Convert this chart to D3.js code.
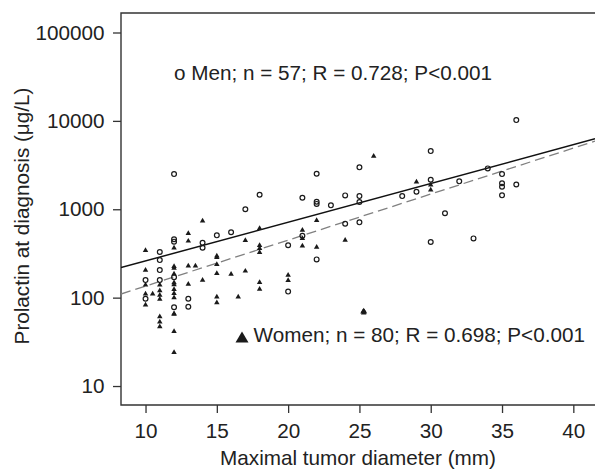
<!DOCTYPE html>
<html><head><meta charset="utf-8">
<script src="https://cdn.jsdelivr.net/npm/d3@7"></script>
<style>body{margin:0;background:#fff}svg{display:block}text{font-family:"Liberation Sans",Arial,Helvetica,sans-serif;fill:#222}</style>
</head><body>
<script>
// Men: [diameter mm, prolactin µg/L]
const men = [
 [12,2500],[18,1460],[17,1000],[12,457],[12,430],[11,328],[11,266],[14,417],[14,367],[15,507],[16,550],
 [11,205],[10,158],[11,158],[12,170],[10,97],[12,78],[13,97],[13,79],
 [25,2980],[22,2520],[21,1350],[22,1215],[22,1150],[23,1107],[24,1435],[25,1410],[25,1206],[28,1410],[29,1578],
 [24,685],[25,711],[21,500],[20,391],[22,271],[20,117],
 [36,10200],[30,4550],[34,2900],[35,2500],[35,1963],[35,1800],[35,1436],[36,1910],[30,2157],[32,2070],[31,900],[30,426],[33,468]
];
// Women: [diameter mm, prolactin µg/L]
const women = [
 [14,740],[13,533],[13,437],[12,366],[10,343],[18,608],[17,445],[18,390],[18,360],[18,325],
 [15,296],[15,285],[15,238],[13,228],[13.5,228],[12,225],[12,215],[10,205],[12,185],[10,139],[11,139],
 [12,148],[12,140],[13,142],[14,158],[15,188],[16,184],[17,200],[18,149],[18,125],
 [10,110],[10,83],[10.5,110],[11,120],[11,107],[11,96],[12,124],[12,112],[12,100],[12,66],[12,65],[11,61],
 [15,102],[15,88],[16.5,102],[11,53],[11,47],[12,41.5],[12,24],
 [26,4000],[29,2045],[22,749],[24,448],[21,580],[21,467],[21,384],[22,372],[20,180],[20,157],
 [25.3,71],[25.3,67],[25.25,69],[25.35,69],[30,1880],[30,1660]
];
// regression fits: log10(prolactin) = a + b * diameter
const menFit = [1.977, 0.04383];
const womenFit = [1.610, 0.05205];
const xTicks = [10,15,20,25,30,35,40];
const yTicks = [10,100,1000,10000,100000];
const menLabel = "o Men; n = 57; R = 0.728; P<0.001";
const womenLabel = "Women; n = 80; R = 0.698; P<0.001";
const xTitle = "Maximal tumor diameter (mm)";
const yTitle = "Prolactin at diagnosis (μg/L)";

const W = 595, H = 470;
const L = 121, T = 13, R = 595, B = 405;
const FS = 20.7;

const svg = d3.select("body").append("svg").attr("width", W).attr("height", H);
const x = d3.scaleLinear().domain([8.28, 41.52]).range([L, R]);
const y = d3.scaleLog().domain([6.10, 166200]).range([B, T]);

svg.append("clipPath").attr("id","clip").append("rect")
  .attr("x", L).attr("y", T).attr("width", R - L).attr("height", B - T);

// axes
const ya = svg.append("g").attr("transform", `translate(${L},0)`)
  .call(d3.axisLeft(y).tickValues(yTicks).tickFormat(d3.format("d")).tickSize(8).tickPadding(8.5));
const xa = svg.append("g").attr("transform", `translate(0,${B})`)
  .call(d3.axisBottom(x).tickValues(xTicks).tickFormat(d3.format("d")).tickSize(8).tickPadding(10.3));
[ya, xa].forEach(g => {
  g.select(".domain").remove();
  g.selectAll(".tick line").attr("stroke", "#333").attr("stroke-width", 1.3);
  g.selectAll(".tick text").style("font-size", FS + "px").attr("fill", "#222");
});

// frame
svg.append("path")
  .attr("d", `M${R+2},${T}H${L}V${B}H${R+2}`)
  .attr("fill", "none").attr("stroke", "#333").attr("stroke-width", 1.4);

// regression lines
const dom = x.domain();
const fitLine = f => d3.line().x(d => x(d)).y(d => y(Math.pow(10, f[0] + f[1] * d)))(dom);
const pg = svg.append("g").attr("clip-path", "url(#clip)");
pg.append("path").attr("d", fitLine(womenFit)).attr("fill","none")
  .attr("stroke", "#808080").attr("stroke-width", 1.3).attr("stroke-dasharray", "10,5");
pg.append("path").attr("d", fitLine(menFit)).attr("fill","none")
  .attr("stroke", "#111").attr("stroke-width", 1.5);

// points
const tri = d3.symbol(d3.symbolTriangle, 13);
pg.selectAll("path.w").data(women).join("path").attr("class","w")
  .attr("d", tri).attr("transform", d => `translate(${x(d[0])},${y(d[1])})`)
  .attr("fill", "#1a1a1a");
pg.selectAll("circle.m").data(men).join("circle").attr("class","m")
  .attr("cx", d => x(d[0])).attr("cy", d => y(d[1])).attr("r", 2.4)
  .attr("fill", "none").attr("stroke", "#1a1a1a").attr("stroke-width", 1.2);

// annotations
svg.append("text").attr("x", 174).attr("y", 80).style("font-size", FS + "px").text(menLabel);
svg.append("path").attr("d", "M242,331.5L248.5,342.5L235.5,342.5Z").attr("fill", "#1a1a1a");
svg.append("text").attr("x", 253.5).attr("y", 341.5).style("font-size", FS + "px").text(womenLabel);

// titles
svg.append("text").attr("x", 358).attr("y", 465).attr("text-anchor", "middle")
  .style("font-size", FS + "px").text(xTitle);
svg.append("text").attr("transform", "translate(29,216) rotate(-90)").attr("text-anchor", "middle")
  .style("font-size", FS + "px").text(yTitle);
</script>
</body></html>
